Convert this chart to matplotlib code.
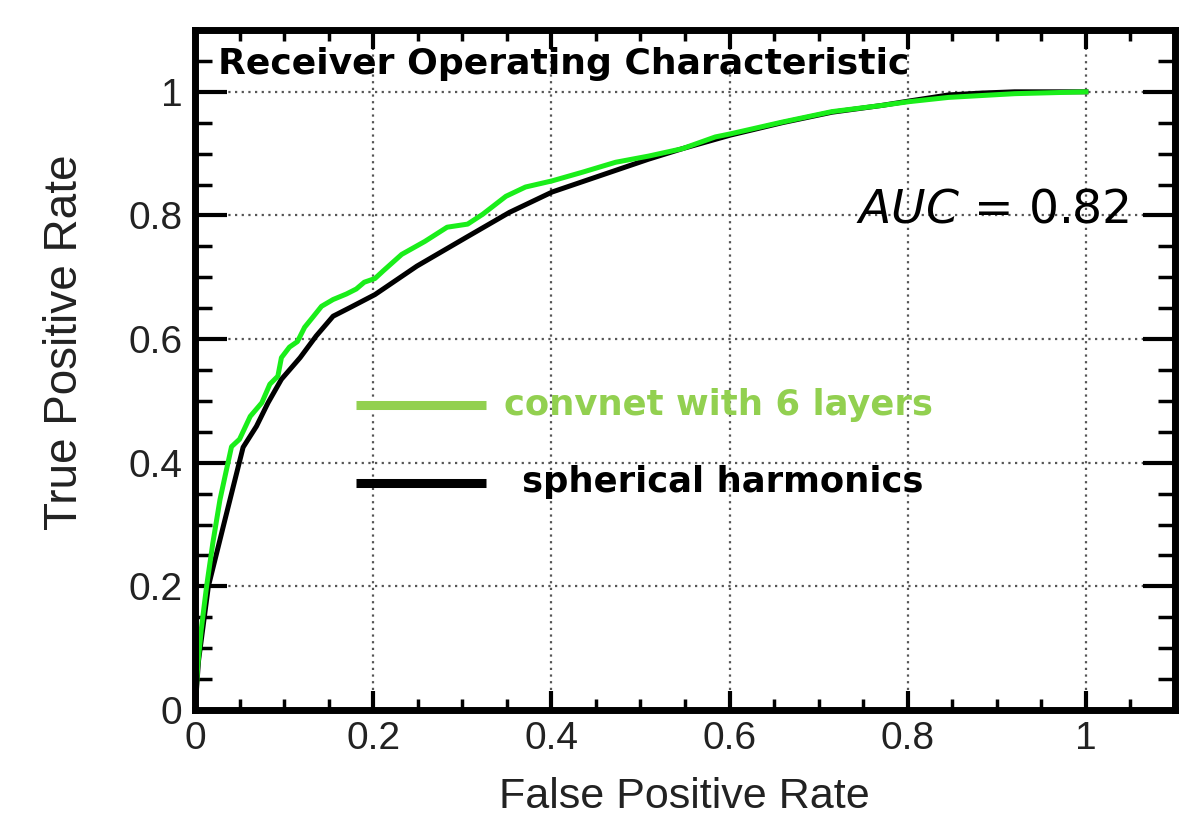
import matplotlib
matplotlib.use("Agg")
import matplotlib.pyplot as plt
from matplotlib.ticker import MultipleLocator

# ---- data ----
convnet_fpr = [0.0, 0.003, 0.007, 0.013, 0.020, 0.028, 0.034, 0.041, 0.050, 0.062, 0.075,
               0.084, 0.093, 0.097, 0.106, 0.115, 0.123, 0.132, 0.142, 0.155, 0.170,
               0.181, 0.190, 0.202, 0.211, 0.232, 0.258, 0.283, 0.306, 0.323, 0.349,
               0.371, 0.401, 0.435, 0.472, 0.509, 0.547, 0.584, 0.601, 0.659, 0.715,
               0.771, 0.801, 0.846, 0.883, 0.920, 1.0]
convnet_tpr = [0.0, 0.07, 0.13, 0.20, 0.27, 0.34, 0.38, 0.426, 0.438, 0.475, 0.497,
               0.527, 0.540, 0.570, 0.587, 0.596, 0.619, 0.635, 0.653, 0.664, 0.673,
               0.681, 0.692, 0.698, 0.710, 0.737, 0.758, 0.781, 0.786, 0.802, 0.831,
               0.846, 0.856, 0.870, 0.886, 0.896, 0.908, 0.927, 0.932, 0.951, 0.968,
               0.978, 0.984, 0.991, 0.994, 0.997, 1.0]

sph_fpr = [0.0, 0.004, 0.015, 0.034, 0.054, 0.069, 0.082, 0.097, 0.118, 0.136, 0.155,
           0.174, 0.202, 0.249, 0.305, 0.353, 0.401, 0.454, 0.509, 0.547, 0.601,
           0.659, 0.715, 0.771, 0.801, 0.846, 0.883, 0.920, 1.0]
sph_tpr = [0.0, 0.08, 0.20, 0.31, 0.425, 0.459, 0.497, 0.535, 0.570, 0.605, 0.637,
           0.651, 0.672, 0.718, 0.765, 0.805, 0.838, 0.864, 0.891, 0.908, 0.930,
           0.950, 0.967, 0.978, 0.985, 0.995, 0.998, 1.0, 1.0]

title_text = "Receiver Operating Characteristic"
auc_text = "0.82"
legend_labels = ["convnet with 6 layers", "spherical harmonics"]
xlabel = "False Positive Rate"
ylabel = "True Positive Rate"

# ---- figure ----
fig = plt.figure(figsize=(11.97, 8.17), dpi=100)
ax = fig.add_axes([195 / 1197, 1 - 710 / 817, 980 / 1197, 680 / 817])

ax.plot(sph_fpr, sph_tpr, color="black", lw=3.6, solid_joinstyle="round")
ax.plot(convnet_fpr, convnet_tpr, color="#1aee1a", lw=3.6, solid_joinstyle="round")

ax.set_xlim(0, 1.1)
ax.set_ylim(0, 1.1)
ax.set_xticks([0, 0.2, 0.4, 0.6, 0.8, 1])
ax.set_yticks([0, 0.2, 0.4, 0.6, 0.8, 1])
ax.set_xticklabels(["0", "0.2", "0.4", "0.6", "0.8", "1"])
ax.set_yticklabels(["0", "0.2", "0.4", "0.6", "0.8", "1"])
ax.xaxis.set_minor_locator(MultipleLocator(0.05))
ax.yaxis.set_minor_locator(MultipleLocator(0.05))

ax.grid(True, which="major", color="#555555", lw=1.6, linestyle=(0, (1, 2)))

for s in ax.spines.values():
    s.set_linewidth(5)
    s.set_color("black")

ax.tick_params(axis="x", which="major", direction="in", top=True, bottom=True,
               length=14, width=3, pad=8, labelsize=28, labelcolor="#222222")
ax.tick_params(axis="x", which="minor", direction="in", top=True, bottom=True,
               length=8, width=2.5)
ax.tick_params(axis="y", which="major", direction="in", left=True, right=True,
               length=23, width=3, pad=9, labelsize=28, labelcolor="#222222")
ax.tick_params(axis="y", which="minor", direction="in", left=True, right=True,
               length=12, width=2.5)
for lab in ax.get_xticklabels() + ax.get_yticklabels():
    lab.set_family("Liberation Sans")

ax.set_xlabel(xlabel, fontsize=31, family="Liberation Sans", color="#222222",
              va="center", ha="center")
ax.xaxis.set_label_coords(0.499, -0.128)
ax.set_ylabel(ylabel, fontsize=33, family="Liberation Sans", color="#222222",
              va="center", ha="center")
ax.yaxis.set_label_coords(-0.1327, 0.541)

# title inside the axes
ax.text(0.026, 1.029, title_text, fontsize=26, family="DejaVu Sans",
        fontweight="bold", color="black", ha="left", va="baseline")
# AUC annotation
ax.text(0.742, 0.788, r"$\mathit{AUC}$ = " + auc_text, fontsize=34,
        family="DejaVu Sans", color="black", ha="left", va="baseline")

# hand-drawn legend
ax.plot([0.181, 0.327], [0.494, 0.494], color="#92d050", lw=6.5, solid_capstyle="butt")
ax.plot([0.181, 0.327], [0.367, 0.367], color="black", lw=6.5, solid_capstyle="butt")
ax.text(0.347, 0.478, legend_labels[0], fontsize=25.5, family="DejaVu Sans",
        fontweight="bold", color="#92d050", ha="left", va="baseline")
ax.text(0.367, 0.352, legend_labels[1], fontsize=25.5, family="DejaVu Sans",
        fontweight="bold", color="black", ha="left", va="baseline")

fig.savefig("out.png", dpi=100)
